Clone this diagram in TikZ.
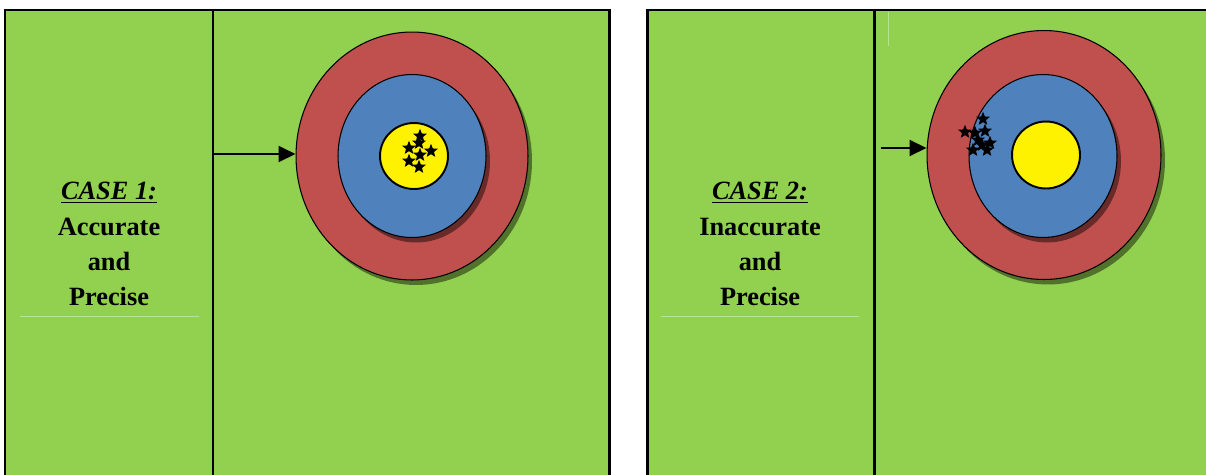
\documentclass[tikz,border=0pt]{standalone}
\usepackage{fontspec}
\setmainfont{Liberation Serif}
\usepackage{tikz}
\usetikzlibrary{shapes.geometric,arrows.meta,shadows}

\definecolor{panelgreen}{HTML}{92D050}
\definecolor{paleline}{HTML}{B9E394}
\definecolor{ringred}{HTML}{C0504D}
\definecolor{ringblue}{HTML}{4F81BD}

\begin{document}
\begin{tikzpicture}[x=0.02cm, y=-0.02cm,
    panel/.style={draw=black, line width=1.7pt, fill=panelgreen},
    ring/.style={draw=black, ellipse, inner sep=0pt, line width=0.6pt},
    shade/.style={drop shadow={shadow xshift=0.08cm, shadow yshift=-0.1cm, fill=black, opacity=0.45}},
    hit/.style={star, star points=5, star point ratio=2.3, fill=black, inner sep=0pt, minimum size=0.29cm},
    caselabel/.style={align=center, inner sep=0pt, font=\bfseries\fontsize{15}{20}\selectfont}]
    \useasboundingbox (0,0) rectangle (1206,474);
    \clip (0,0) rectangle (1206,474);

    % panels
    \draw[panel] (5,10) rectangle (609,500);
    \draw[panel] (647,10) rectangle (1212,500);
    \draw[line width=1.7pt] (213,10) -- (213,500);
    \draw[line width=1.7pt] (874,10) -- (874,500);
    \draw[paleline, line width=0.5pt] (20,316) -- (199,316);
    \draw[paleline, line width=0.5pt] (661,316) -- (859,316);
    \draw[paleline, line width=0.5pt] (888,12) -- (888,46);

    % labels
    \node[caselabel] (case1) at (109,244) {\underline{\textit{CASE 1:}}\\Accurate\\and\\Precise};
    \node[caselabel] (case2) at (760,244) {\underline{\textit{CASE 2:}}\\Inaccurate\\and\\Precise};

    % target 1
    \node[ring, shade, fill=ringred, minimum width=4.64cm, minimum height=4.96cm] (red1) at (412,156) {};
    \node[ring, shade, fill=ringblue, minimum width=2.96cm, minimum height=3.26cm] (blue1) at (412,156) {};
    \node[ring, fill=yellow, line width=1.1pt, minimum width=1.36cm, minimum height=1.32cm] (gold1) at (414,156) {};
    \foreach \p [count=\i] in {(420,136),(419,143),(409,148),(431,151),(420,155),(409,161),(419,167)}
        \node[hit] (hitA\i) at \p {};

    % target 2
    \node[ring, shade, fill=ringred, minimum width=4.68cm, minimum height=4.98cm] (red2) at (1044,155) {};
    \node[ring, shade, fill=ringblue, minimum width=2.96cm, minimum height=3.26cm] (blue2) at (1043,156) {};
    \node[ring, fill=yellow, line width=1.1pt, minimum width=1.36cm, minimum height=1.34cm] (gold2) at (1046,155) {};
    \foreach \p [count=\i] in {(983,119),(965,132),(975,133),(985,131),(978,140),(990,143),(982,145),(973,150),(987,150)}
        \node[hit] (hitB\i) at \p {};

    % arrows
    \coordinate (from1) at (213,154);
    \coordinate (from2) at (881,148);
    \draw[line width=1.1pt, -{Triangle[length=0.34cm, width=0.32cm]}] (from1) -- (from1 -| red1.west);
    \draw[line width=1.1pt, -{Triangle[length=0.34cm, width=0.32cm]}] (from2) -- (from2 -| red2.west);
\end{tikzpicture}
\end{document}
